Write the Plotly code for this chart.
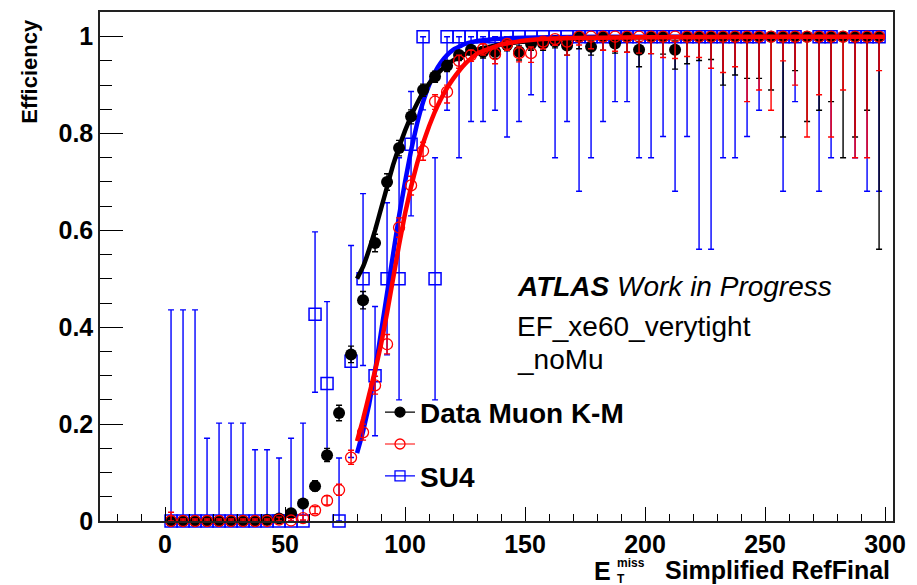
import plotly.graph_objects as go

# ---------------- data ----------------
bin_centers = [2.5, 7.5, 12.5, 17.5, 22.5, 27.5, 32.5, 37.5, 42.5, 47.5,
               52.5, 57.5, 62.5, 67.5, 72.5, 77.5, 82.5, 87.5, 92.5, 97.5,
               102.5, 107.5, 112.5, 117.5, 122.5, 127.5, 132.5, 137.5, 142.5, 147.5,
               152.5, 157.5, 162.5, 167.5, 172.5, 177.5, 182.5, 187.5, 192.5, 197.5,
               202.5, 207.5, 212.5, 217.5, 222.5, 227.5, 232.5, 237.5, 242.5, 247.5,
               252.5, 257.5, 262.5, 267.5, 272.5, 277.5, 282.5, 287.5, 292.5, 297.5]

# Data Muon K-M (black)
data_eff = [0, 0, 0, 0, 0, 0, 0, 0, 0.002, 0.005,
            0.016, 0.036, 0.072, 0.136, 0.223, 0.344, 0.456, 0.574, 0.700, 0.770,
            0.835, 0.890, 0.918, 0.940, 0.962, 0.973, 0.969, 0.969, 0.983, 0.969,
            0.985, 0.986, 0.990, 0.982, 1.0, 0.979, 1.0, 0.986, 1.0, 0.973,
            1.0, 1.0, 0.973, 1.0, 1.0, 1.0, 1.0, 1.0, 1.0, 1.0,
            1.0, 1.0, 1.0, 1.0, 1.0, 1.0, 1.0, 1.0, 1.0, 1.0]
data_lo = [0, 0, 0, 0, 0, 0, 0, 0, 0.0, 0.002,
           0.011, 0.029, 0.062, 0.123, 0.207, 0.327, 0.438, 0.556, 0.683, 0.754,
           0.820, 0.877, 0.906, 0.928, 0.951, 0.962, 0.956, 0.955, 0.971, 0.952,
           0.972, 0.972, 0.977, 0.962, 0.975, 0.962, 0.972, 0.966, 0.968, 0.938,
           0.965, 0.964, 0.933, 0.944, 0.951, 0.953, 0.900, 0.921, 0.914, 0.914,
           0.890, 0.793, 0.930, 0.825, 0.848, 0.866, 0.750, 0.793, 0.848, 0.561]
data_hi = [0.003, 0.003, 0.003, 0.003, 0.003, 0.003, 0.003, 0.003, 0.006, 0.009,
           0.022, 0.044, 0.083, 0.150, 0.239, 0.361, 0.474, 0.592, 0.717, 0.786,
           0.849, 0.902, 0.929, 0.951, 0.971, 0.981, 0.979, 0.980, 0.991, 0.981,
           0.993, 0.994, 0.997, 0.993, 1.0, 0.991, 1.0, 0.996, 1.0, 0.990,
           1.0, 1.0, 0.991, 1.0, 1.0, 1.0, 1.0, 1.0, 1.0, 1.0,
           1.0, 1.0, 1.0, 1.0, 1.0, 1.0, 1.0, 1.0, 1.0, 1.0]

# second sample (red, no label)
red_eff = [0, 0, 0, 0, 0, 0, 0, 0, 0, 0.003,
           0.001, 0.006, 0.022, 0.042, 0.064, 0.131, 0.183, 0.280, 0.365, 0.606,
           0.693, 0.764, 0.866, 0.886, 0.950, 0.962, 0.975, 0.964, 0.985, 0.966,
           0.966, 0.990, 0.995, 0.990, 1.0, 1.0, 1.0, 1.0, 1.0, 1.0,
           1.0, 1.0, 1.0, 1.0, 1.0, 1.0, 1.0, 1.0, 1.0, 1.0,
           1.0, 1.0, 1.0, 1.0, 1.0, 1.0, 1.0, 1.0, 1.0, 1.0]
red_lo = [0, 0, 0, 0, 0, 0, 0, 0, 0, 0.0,
          0.0, 0.002, 0.015, 0.033, 0.053, 0.117, 0.167, 0.262, 0.345, 0.586,
          0.673, 0.745, 0.850, 0.863, 0.935, 0.949, 0.962, 0.944, 0.972, 0.948,
          0.947, 0.975, 0.982, 0.962, 0.983, 0.975, 0.972, 0.970, 0.968, 0.966,
          0.965, 0.957, 0.955, 0.959, 0.957, 0.935, 0.926, 0.938, 0.866, 0.890,
          0.848, 0.950, 0.900, 0.793, 0.880, 0.793, 0.890, 0.750, 0.750, 0.930]
red_hi = [0.018, 0.004, 0.004, 0.004, 0.004, 0.004, 0.004, 0.004, 0.004, 0.008,
          0.005, 0.012, 0.030, 0.052, 0.076, 0.146, 0.200, 0.299, 0.385, 0.626,
          0.712, 0.782, 0.880, 0.900, 0.962, 0.972, 0.985, 0.977, 0.993, 0.979,
          0.979, 0.997, 0.999, 0.998, 1.0, 1.0, 1.0, 1.0, 1.0, 1.0,
          1.0, 1.0, 1.0, 1.0, 1.0, 1.0, 1.0, 1.0, 1.0, 1.0,
          1.0, 1.0, 1.0, 1.0, 1.0, 1.0, 1.0, 1.0, 1.0, 1.0]

# SU4 (blue); None = empty bin
su4_eff = [0, 0, 0, 0, 0, 0, 0, 0, 0, 0,
           0, 0, 0.427, 0.284, 0, 0.33, 0.5, 0.3, 0.5, 0.5,
           0.778, 1.0, 0.5, 1.0, 1.0, 1.0, 1.0, 1.0, 1.0, 1.0,
           1.0, 1.0, 1.0, 1.0, 1.0, 1.0, 1.0, 1.0, 1.0, 1.0,
           1.0, 1.0, 1.0, 1.0, 1.0, 1.0, 1.0, 1.0, 1.0, 1.0,
           None, 1.0, 1.0, None, 1.0, 1.0, None, 1.0, 1.0, 1.0]
su4_lo = [0, 0, 0, 0, 0, 0, 0, 0, 0, 0,
          0, 0, 0.266, 0.137, 0, 0.131, 0.321, 0.176, 0.343, 0.25,
          0.63, 0.849, 0.25, 0.848, 0.75, 0.825, 0.825, 0.848, 0.793, 0.825,
          0.880, 0.866, 0.75, 0.825, 0.681, 0.75, 0.825, 0.866, 0.866, 0.75,
          0.75, 0.794, 0.681, 0.794, 0.561, 0.561, 0.75, 0.75, 0.794, 0.848,
          None, 0.681, 0.866, None, 0.681, 0.75, None, 0.75, 0.681, 0.681]
su4_hi = [0.436, 0.436, 0.436, 0.171, 0.202, 0.202, 0.202, 0.147, 0.147, 0.130,
          0.171, 0.202, 0.597, 0.453, 0.13, 0.569, 0.676, 0.443, 0.657, 0.75,
          0.887, 1.0, 0.75, 1.0, 1.0, 1.0, 1.0, 1.0, 1.0, 1.0,
          1.0, 1.0, 1.0, 1.0, 1.0, 1.0, 1.0, 1.0, 1.0, 1.0,
          1.0, 1.0, 1.0, 1.0, 1.0, 1.0, 1.0, 1.0, 1.0, 1.0,
          None, 1.0, 1.0, None, 1.0, 1.0, None, 1.0, 1.0, 1.0]

# fitted turn-on curves
fit_x = [80, 82.5, 85, 87.5, 90, 92.5, 95, 97.5, 100, 102.5, 105, 107.5, 110,
         112.5, 115, 117.5, 120, 125, 130, 140, 150, 160, 180, 200, 250, 300]
fit_data = [0.50, 0.525, 0.56, 0.60, 0.645, 0.69, 0.735, 0.772, 0.806, 0.836, 0.862, 0.885, 0.903,
            0.918, 0.931, 0.942, 0.951, 0.964, 0.973, 0.984, 0.990, 0.994, 0.998, 0.999, 1.0, 1.0]
fit_red = [0.165, 0.21, 0.26, 0.31, 0.365, 0.43, 0.50, 0.57, 0.635, 0.69, 0.738, 0.78, 0.815,
           0.846, 0.872, 0.894, 0.913, 0.944, 0.965, 0.984, 0.992, 0.996, 0.998, 0.999, 1.0, 1.0]
fit_su4 = [0.14, 0.185, 0.24, 0.31, 0.39, 0.47, 0.55, 0.63, 0.70, 0.765, 0.82, 0.865, 0.90,
           0.927, 0.947, 0.962, 0.973, 0.985, 0.991, 0.996, 0.998, 0.999, 1.0, 1.0, 1.0, 1.0]

x_tick_vals = [0, 50, 100, 150, 200, 250, 300]
y_tick_vals = [0, 0.2, 0.4, 0.6, 0.8, 1.0]
y_tick_text = ["0", "0.2", "0.4", "0.6", "0.8", "1"]

legend_names = ["Data Muon K-M", " ", "SU4"]

# ---------------- layout geometry ----------------
W, H = 917, 585
FL, FR, FT, FB = 100, 893, 10, 521   # frame in pixels
XR = [-27.1, 303.3]
YR = [0, 1.051]
FONT = "Liberation Sans, Arial, sans-serif"


def pxx(p):
    return (p - FL) / (FR - FL)


def pxy(p):
    return (FB - p) / (FB - FT)


def err_plus(eff, hi):
    return [None if e is None else h - e for e, h in zip(eff, hi)]


def err_minus(eff, lo):
    return [None if e is None else e - l for e, l in zip(eff, lo)]


BLACK, RED, BLUE = "#000000", "#ff0000", "#0000ff"

fig = go.Figure()


def add_points(eff, lo, hi, color, symbol, size, lw):
    fig.add_trace(go.Scatter(
        x=bin_centers, y=eff, mode="markers", showlegend=False, cliponaxis=False,
        marker=dict(symbol=symbol, size=size, color=color, line=dict(color=color, width=lw)),
        error_y=dict(type="data", symmetric=False, array=err_plus(eff, hi),
                     arrayminus=err_minus(eff, lo), color=color, thickness=1.4, width=3),
    ))


def add_fit(yv, color):
    fig.add_trace(go.Scatter(x=fit_x, y=yv, mode="lines", showlegend=False,
                             line=dict(color=color, width=4.5, shape="spline", smoothing=0.3)))


add_points(su4_eff, su4_lo, su4_hi, BLUE, "square-open", 12, 1.5)
add_fit(fit_su4, BLUE)
add_points(data_eff, data_lo, data_hi, BLACK, "circle", 12, 0)
add_fit(fit_data, BLACK)
add_points(red_eff, red_lo, red_hi, RED, "circle-open", 11, 1.3)
add_fit(fit_red, RED)

# legend entries, one small legend per row
legend_rows = [("legend", BLACK, "circle", 412),
               ("legend2", RED, "circle-open", 444),
               ("legend3", BLUE, "square-open", 476)]
for name, (lg, color, symbol, _) in zip(legend_names, legend_rows):
    fig.add_trace(go.Scatter(x=[None], y=[None], mode="lines+markers", name=name, legend=lg,
                             line=dict(color=color, width=1.2),
                             marker=dict(symbol=symbol, size=10, color=color,
                                         line=dict(color=color, width=1.3))))

axis_common = dict(showgrid=False, zeroline=False, showline=True, mirror=True,
                   linecolor="#222222", linewidth=1.5, ticks="inside", tickcolor="#000000",
                   tickwidth=1.2,
                   tickfont=dict(family=FONT, size=25, color="#000000", weight="bold"))

fig.update_xaxes(range=XR, tickvals=x_tick_vals, ticklen=14,
                 minor=dict(dtick=10, tick0=0, ticklen=7, ticks="inside", tickcolor="#000000", tickwidth=1.2),
                 **axis_common)
fig.update_yaxes(range=YR, tickvals=y_tick_vals, ticktext=y_tick_text, ticklen=23,
                 minor=dict(dtick=0.05, tick0=0, ticklen=12, ticks="inside", tickcolor="#000000", tickwidth=1.2),
                 **axis_common)

annotations = [
    dict(x=pxx(515), y=pxy(286), text="<b><i>ATLAS</i></b><i> Work in Progress</i>",
         font=dict(family=FONT, size=28, color="#000000")),
    dict(x=pxx(515), y=pxy(326), text="EF_xe60_verytight",
         font=dict(family=FONT, size=28, color="#000000")),
    dict(x=pxx(515), y=pxy(359), text="_noMu",
         font=dict(family=FONT, size=28, color="#000000")),
]
for a in annotations:
    a.update(xref="paper", yref="paper", xanchor="left", yanchor="middle", showarrow=False)

# axis titles
annotations += [
    dict(x=pxx(30), y=pxy(70), text="<b>Efficiency</b>", textangle=-90,
         font=dict(family=FONT, size=22, color="#000000"),
         xref="paper", yref="paper", xanchor="center", yanchor="middle", showarrow=False),
    dict(x=pxx(892), y=pxy(570), text="<b>Simplified RefFinal</b>",
         font=dict(family=FONT, size=25, color="#000000"),
         xref="paper", yref="paper", xanchor="right", yanchor="middle", showarrow=False),
    dict(x=pxx(613), y=pxy(571), text="<b>E</b>",
         font=dict(family=FONT, size=25, color="#000000"),
         xref="paper", yref="paper", xanchor="right", yanchor="middle", showarrow=False),
    dict(x=pxx(615), y=pxy(571), text="<b>miss</b><br><b>T</b>", align="left",
         font=dict(family=FONT, size=12, color="#000000"),
         xref="paper", yref="paper", xanchor="left", yanchor="middle", showarrow=False),
]

legend_style = dict(xanchor="left", yanchor="middle", bgcolor="rgba(0,0,0,0)", borderwidth=0,
                    itemwidth=30, font=dict(family=FONT, size=28, color="#000000", weight="bold"))
legend_layout = {}
for lg, _, _, ypix in legend_rows:
    legend_layout[lg] = dict(x=pxx(380), y=pxy(ypix), **legend_style)

fig.update_layout(
    width=W, height=H,
    margin=dict(l=FL, r=W - FR, t=FT, b=H - FB, pad=0),
    paper_bgcolor="white", plot_bgcolor="white",
    font=dict(family=FONT, color="#000000"),
    annotations=annotations,
    **legend_layout,
)

fig.write_html("out.html")
